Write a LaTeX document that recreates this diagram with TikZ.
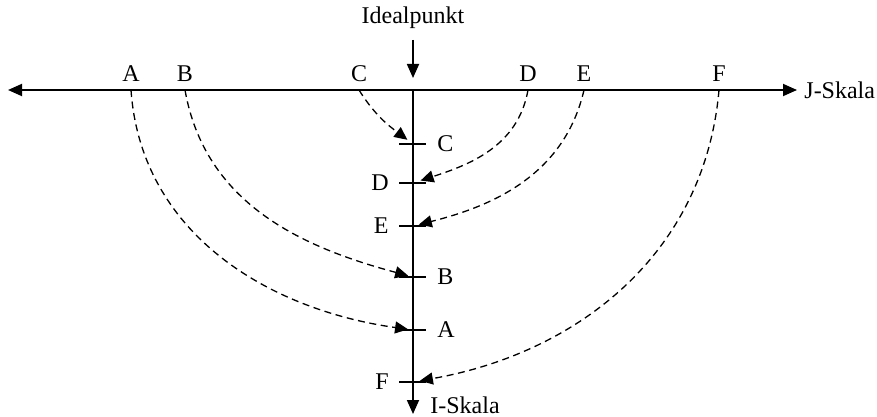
\documentclass[tikz,border=0pt]{standalone}
\usepackage{fontspec}
\setmainfont{Liberation Serif}
\usetikzlibrary{arrows.meta}

\begin{document}
\begin{tikzpicture}[x=0.5pt, y=0.5pt, font=\fontsize{12}{14}\selectfont,
  axisline/.style={line width=0.9pt},
  tip/.style={-{Triangle[length=7pt,width=6pt]}},
  pref/.style={dash pattern=on 3.5pt off 2.3pt, line width=0.65pt,
    -{Triangle[length=6.5pt,width=6pt]}},
  tick/.style={line width=0.9pt}]
\useasboundingbox (0,0) rectangle (877,-417);

% Scales
\coordinate (jleft) at (8,-90);
\coordinate (jright) at (797,-90);
\coordinate (itop) at (413,-90);
\coordinate (ibottom) at (413,-414);
\draw[axisline, {Triangle[length=7pt,width=6pt]}-{Triangle[length=7pt,width=6pt]}] (jleft) -- (jright);
\draw[axisline, tip] (itop) -- (ibottom);
\node[anchor=west, inner sep=1pt] (jscale) at (802,-90) {J-Skala};
\node[anchor=west, inner sep=0pt] (iscale) at (430,-405) {I-Skala};

% Ideal point
\node (ideal) at (413,-18) {Idealpunkt};
\coordinate (idealtip) at (413,-78);
\draw[axisline, tip, shorten <=2pt] (ideal.south) -- (idealtip);

% J-Scale positions
\foreach \name/\xpos in {A/131, B/185, C/359, D/528, E/584, F/719} {
  \coordinate (j\name) at (\xpos,-90);
  \node[above=3pt, inner sep=1pt] (jl\name) at (j\name) {\name};
}

% I-Scale positions
\foreach \name/\ypos/\side in {C/144/right, D/183/left, E/226/left, B/277/right, A/330/right, F/382/left} {
  \coordinate (i\name) at (413,-\ypos);
  \draw[tick] ([xshift=-7pt]i\name) -- ([xshift=6.5pt]i\name);
  \node[\side=11pt, inner sep=1pt] (il\name) at (i\name) {\name};
}

% Unfolding
\draw[pref, shorten >=2.5pt] (jA) to[out=-86, in=172] (iA);
\draw[pref, shorten >=2.5pt] (jB) to[out=-80, in=165] (iB);
\draw[pref, shorten >=3.5pt] (jC) to[out=-58, in=143] (iC);
\draw[pref, shorten >=4pt] (jD) to[out=-100, in=18] (iD);
\draw[pref, shorten >=3pt] (jE) to[out=-103, in=14] (iE);
\draw[pref, shorten >=3.5pt] (jF) to[out=-95, in=10] (iF);
\end{tikzpicture}
\end{document}
